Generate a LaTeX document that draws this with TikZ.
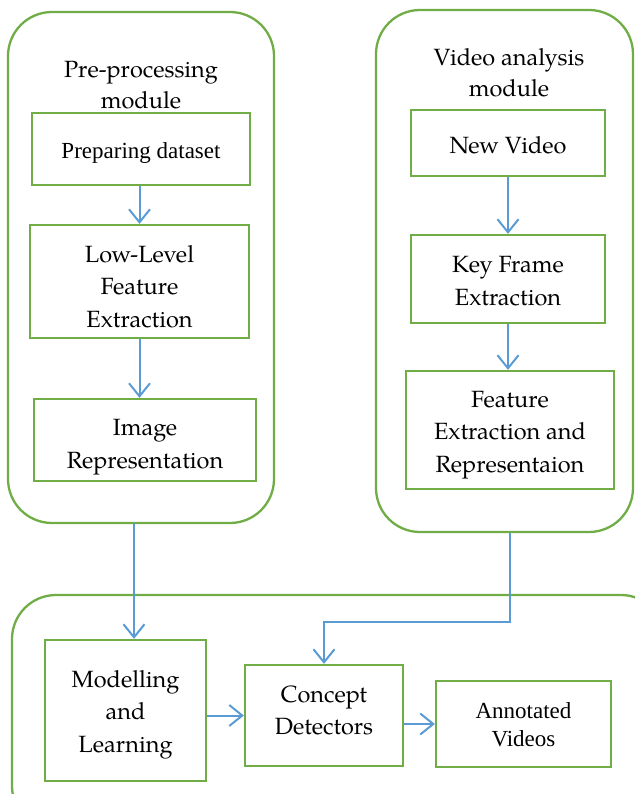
\documentclass[tikz,border=0pt]{standalone}
\usepackage{fontspec}
\setmainfont{texgyrepagella-regular.otf}
\newfontfamily\tms{Liberation Serif}
\usetikzlibrary{arrows.meta}
\definecolor{gr}{HTML}{70AD47}
\definecolor{bl}{HTML}{5B9BD5}
\begin{document}
\begin{tikzpicture}[x=1pt,y=-1pt,
  module/.style={draw=gr, line width=2.3pt, rounded corners=44pt, inner sep=0pt},
  box/.style={draw=gr, line width=2.3pt, inner sep=0pt},
  txt/.style={align=center, inner sep=0pt, font=\fontsize{23.5}{32.5}\selectfont},
  ttxt/.style={align=center, inner sep=0pt, font=\tms\fontsize{23}{28}\selectfont},
  title/.style={align=center, inner sep=0pt, font=\fontsize{23.5}{31}\selectfont},
  arr/.style={draw=bl, line width=2pt, -{Straight Barb[length=13pt,width=21pt]}},
  tarr/.style={draw=bl, line width=1.1pt, -{Straight Barb[length=13pt,width=21pt,line width=2pt]}}]
\clip (0,0) rectangle (635,794);
% modules
\node[module, minimum width=266pt, minimum height=511pt] (lmod) at (141,267.5) {};
\node[module, minimum width=257pt, minimum height=522pt] (rmod) at (504.5,271) {};
\node[module, minimum width=653pt, minimum height=235pt] (bmod) at (338.5,712.5) {};
\node[title] (ltitle) at (141,85) {Pre-processing\\module};
\node[title] (rtitle) at (509,73) {Video analysis\\module};
% left module
\node[box, minimum width=218pt, minimum height=72pt] (pd) at (141,149) {};
\node[ttxt] (pdt) at ([yshift=-4pt]pd.center) {Preparing dataset};
\node[box, minimum width=219pt, minimum height=113pt] (ll) at (139.5,281.5) {};
\node[txt] (llt) at ([yshift=-5pt]ll.center) {Low-Level\\Feature\\Extraction};
\node[box, minimum width=222pt, minimum height=82pt] (ir) at (145,440) {};
\node[txt] (irt) at ([yshift=-7pt]ir.center) {Image\\Representation};
% right module
\node[box, minimum width=194pt, minimum height=66pt] (nv) at (508,143) {};
\node[txt] (nvt) at ([yshift=-2pt]nv.center) {New Video};
\node[box, minimum width=194pt, minimum height=88pt] (kf) at (508,279) {};
\node[txt] (kft) at ([yshift=-2pt]kf.center) {Key Frame\\Extraction};
\node[box, minimum width=208pt, minimum height=118pt] (fe) at (510,430) {};
\node[txt] (fet) at ([yshift=-5pt]fe.center) {Feature\\Extraction and\\Representaion};
% bottom module
\node[box, minimum width=161pt, minimum height=141pt] (ml) at (125.5,710.5) {};
\node[txt] (mlt) at ([yshift=-4pt]ml.center) {Modelling\\and\\Learning};
\node[box, minimum width=158pt, minimum height=101pt] (cd) at (324,715.5) {};
\node[txt] (cdt) at ([yshift=5pt]cd.center) {Concept\\Detectors};
\node[box, minimum width=175pt, minimum height=86pt] (av) at (523.5,724) {};
\node[ttxt] (avt) at ([yshift=-1pt]av.center) {Annotated\\Videos};
% connectors
\draw[arr] (pd.south -| ll.north) -- (ll.north);
\draw[arr] (ll.south) -- (ll.south |- ir.north);
\draw[arr] (nv.south) -- (kf.north);
\draw[arr] (kf.south) -- (kf.south |- fe.north);
\coordinate (lstart) at (134,523);
\draw[arr] (lstart) -- (lstart |- ml.north);
\coordinate (bend) at (510,622);
\draw[tarr] (fe.south |- rmod.south) -- (bend) -| (cd.north);
\draw[arr] (ml.east |- cd.west) -- (cd.west);
\draw[arr] (cd.east |- av.west) -- (av.west);
\end{tikzpicture}
\end{document}
